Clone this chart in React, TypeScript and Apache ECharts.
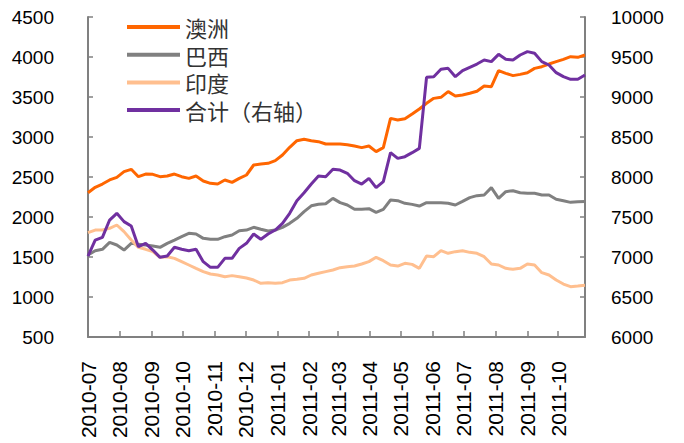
import React, { useEffect, useRef } from "react";
import * as echarts from "echarts";

// Weekly observations, first one on 2010-07-01
const startDate = "2010-07-01";

const monthLabels = [
  "2010-07", "2010-08", "2010-09", "2010-10", "2010-11", "2010-12",
  "2011-01", "2011-02", "2011-03", "2011-04", "2011-05", "2011-06",
  "2011-07", "2011-08", "2011-09", "2011-10",
];

const leftTicks = [500, 4500, 500]; // min, max, step
const rightTicks = [6000, 10000, 500];

const seriesNames = ["澳洲", "巴西", "印度", "合计（右轴）"];

const australia = [
  2304, 2371, 2412, 2463, 2496, 2567, 2596, 2504, 2537, 2533, 2504, 2512, 2537, 2504, 2483, 2512, 2450, 2421,
  2412, 2463, 2433, 2483, 2525, 2650, 2662, 2671, 2704, 2775, 2871, 2954, 2971, 2954, 2942, 2912, 2912,
  2912, 2904, 2887, 2867, 2887, 2817, 2867, 3233, 3212, 3229, 3287, 3350, 3421, 3483, 3496, 3567, 3512,
  3525, 3546, 3571, 3637, 3629, 3829, 3796, 3767, 3783, 3804, 3858, 3879, 3912, 3942, 3971, 4004, 3996, 4025,
];

const brazil = [
  1525, 1579, 1596, 1683, 1650, 1587, 1671, 1658, 1650, 1637, 1621, 1671, 1712, 1754, 1796, 1787, 1733, 1721,
  1721, 1754, 1775, 1829, 1837, 1871, 1846, 1825, 1837, 1871, 1921, 1983, 2067, 2140, 2160, 2165, 2233,
  2180, 2150, 2096, 2096, 2104, 2058, 2096, 2212, 2204, 2171, 2158, 2137, 2179, 2179, 2179, 2171, 2150,
  2195, 2242, 2267, 2275, 2367, 2233, 2317, 2329, 2304, 2296, 2296, 2275, 2275, 2221, 2204, 2183, 2192, 2195,
];

const india = [
  1804, 1837, 1837, 1858, 1900, 1817, 1712, 1621, 1596, 1567, 1496, 1504, 1483, 1442, 1400, 1358, 1317, 1287,
  1275, 1254, 1267, 1254, 1237, 1212, 1171, 1179, 1171, 1179, 1212, 1221, 1233, 1275, 1296, 1317, 1337,
  1367, 1379, 1387, 1412, 1442, 1496, 1454, 1400, 1387, 1421, 1408, 1358, 1512, 1504, 1579, 1546, 1567,
  1579, 1558, 1546, 1504, 1412, 1400, 1358, 1346, 1358, 1412, 1400, 1304, 1275, 1212, 1162, 1129, 1137, 1146,
];

const total = [
  7012, 7212, 7246, 7462, 7546, 7442, 7387, 7129, 7171, 7087, 6996, 7012, 7121, 7096, 7079, 7096, 6942, 6871,
  6871, 6983, 6983, 7108, 7171, 7287, 7221, 7287, 7337, 7421, 7546, 7704, 7804, 7912, 8012, 8004, 8096,
  8087, 8046, 7954, 7912, 7983, 7867, 7942, 8304, 8233, 8254, 8304, 8358, 9246, 9254, 9346, 9358, 9254,
  9329, 9371, 9412, 9462, 9442, 9533, 9471, 9462, 9525, 9567, 9546, 9442, 9400, 9304, 9254, 9221, 9221, 9275,
];

const colors = ["#FF6600", "#808080", "#FFBF8F", "#7030A0"];

const DAY = 86400000;
const parseUTC = (s: string) => {
  const p = s.split("-").map(Number);
  return Date.UTC(p[0], p[1] - 1, p[2] || 1);
};
const START = parseUTC(startDate);
const dayOffsets = australia.map((_, i) => i * 7);
const monthDays = monthLabels.map((m) => Math.round((parseUTC(m) - START) / DAY));
const lastDay = dayOffsets[dayOffsets.length - 1];

const pairs = (vals: number[]) => vals.map((v, i) => [dayOffsets[i], v]);

export default function App() {
  const ref = useRef<HTMLDivElement>(null);
  useEffect(() => {
    if (!ref.current) return;
    const chart = echarts.init(ref.current, null, { renderer: "svg" });
    const axisColor = "#808080";
    const font = "'Liberation Sans', Arial, 'Noto Sans CJK SC', sans-serif";
    const lineSeries = (name: string, data: number[], color: string, yIdx: number) => ({
      name,
      type: "line",
      yAxisIndex: yIdx,
      data: pairs(data),
      symbol: "none",
      lineStyle: { color, width: 3 },
      itemStyle: { color },
      z: 2,
    });
    chart.setOption({
      animation: false,
      backgroundColor: "#ffffff",
      textStyle: { fontFamily: font },
      grid: { left: 88, right: 99, top: 17, bottom: 106 },
      legend: {
        orient: "vertical",
        left: 127,
        top: 16,
        padding: 0,
        itemWidth: 53,
        itemHeight: 4,
        itemGap: 5.7,
        icon: "rect",
        data: seriesNames,
        textStyle: {
          fontSize: 22,
          lineHeight: 22,
          color: "#333333",
          fontFamily: "'Noto Sans CJK SC', sans-serif",
        },
      },
      xAxis: {
        type: "value",
        min: 0,
        max: lastDay,
        axisLine: { show: true, lineStyle: { color: axisColor, width: 2 } },
        axisTick: {
          show: true,
          inside: true,
          length: 6,
          customValues: monthDays,
          lineStyle: { color: axisColor, width: 1.5 },
        },
        splitLine: { show: false },
        axisLabel: {
          customValues: monthDays,
          rotate: 90,
          margin: 24,
          fontSize: 21,
          color: "#000000",
          fontFamily: font,
          formatter: (v: number) => {
            const idx = monthDays.indexOf(Math.round(v));
            return idx >= 0 ? monthLabels[idx] : "";
          },
        },
      },
      yAxis: [
        {
          type: "value",
          position: "left",
          min: leftTicks[0],
          max: leftTicks[1],
          interval: leftTicks[2],
          axisLine: { show: true, lineStyle: { color: axisColor, width: 2 } },
          axisTick: { show: true, inside: true, length: 5, lineStyle: { color: axisColor, width: 1.5 } },
          splitLine: { show: false },
          axisLabel: {
            fontSize: 19,
            color: "#000000",
            margin: 34,
            fontFamily: font,
            formatter: (v: number) => String(v),
          },
        },
        {
          type: "value",
          position: "right",
          min: rightTicks[0],
          max: rightTicks[1],
          interval: rightTicks[2],
          axisLine: { show: true, lineStyle: { color: axisColor, width: 2 } },
          axisTick: { show: true, inside: true, length: 5, lineStyle: { color: axisColor, width: 1.5 } },
          splitLine: { show: false },
          axisLabel: {
            fontSize: 19,
            color: "#000000",
            margin: 26,
            fontFamily: font,
            formatter: (v: number) => String(v),
          },
        },
      ],
      series: [
        lineSeries(seriesNames[0], australia, colors[0], 0),
        lineSeries(seriesNames[1], brazil, colors[1], 0),
        lineSeries(seriesNames[2], india, colors[2], 0),
        lineSeries(seriesNames[3], total, colors[3], 1),
      ],
    });
    return () => chart.dispose();
  }, []);
  return (
    <div
      ref={ref}
      style={{ position: "fixed", left: 0, top: 0, width: 684, height: 443, background: "#fff" }}
    />
  );
}
